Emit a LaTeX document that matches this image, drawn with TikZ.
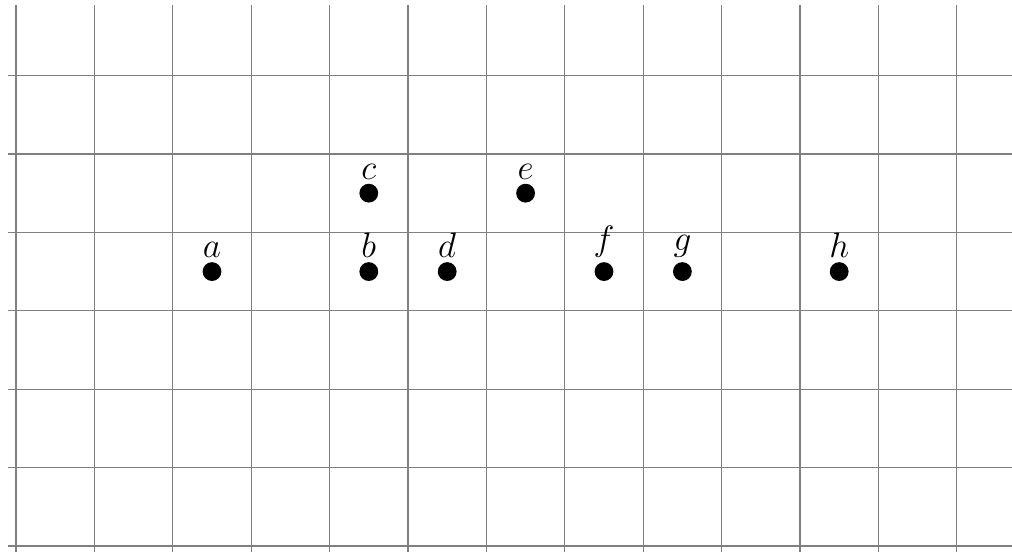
\RequirePackage{fix-cm}
\documentclass[tikz,border=0pt]{standalone}
\begin{document}
\begin{tikzpicture}[
  gridline/.style={draw=gray, line width=0.4pt},
  dotnode/.style={circle, fill=black, inner sep=0pt, minimum size=0.24cm},
  lbl/.style={anchor=south, inner sep=0pt, font=\fontsize{12.8}{15}\selectfont}
]
\useasboundingbox (-0.204,-0.0765) rectangle (12.704,6.964);
\draw[gridline] (-0.1,-0.1) grid (12.9,6.9);
\foreach \n/\x/\y in {a/2.5/3.5, b/4.5/3.5, c/4.5/4.5, d/5.5/3.5, e/6.5/4.5, f/7.5/3.5, g/8.5/3.5, h/10.5/3.5}{
  \node[dotnode] (\n) at (\x,\y) {};
  \node[lbl] (l\n) at ([yshift=0.17cm]\n.center) {$\n$};
}
\end{tikzpicture}
\end{document}
